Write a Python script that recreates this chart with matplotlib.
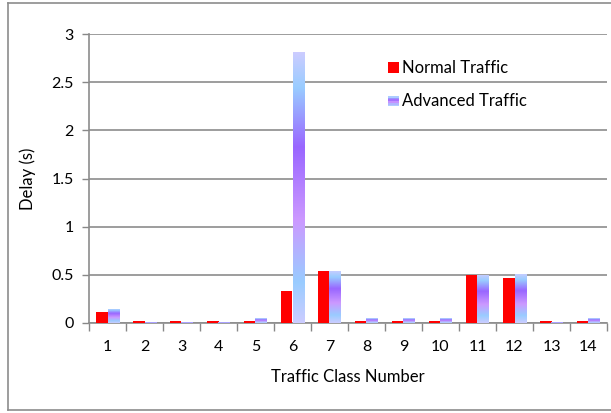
import numpy as np
import matplotlib
matplotlib.use("Agg")
import matplotlib.pyplot as plt
from matplotlib.colors import LinearSegmentedColormap
from matplotlib.patches import Rectangle
from matplotlib.lines import Line2D
from matplotlib.legend_handler import HandlerBase

plt.rcParams['font.family'] = ['Lato', 'DejaVu Sans']

categories = [str(i) for i in range(1, 15)]
normal = [0.11, 0.02, 0.02, 0.02, 0.02, 0.33, 0.54, 0.02, 0.02, 0.02, 0.50, 0.47, 0.02, 0.02]
advanced = [0.15, 0.01, 0.01, 0.01, 0.05, 2.81, 0.54, 0.05, 0.05, 0.05, 0.50, 0.51, 0.01, 0.05]
yticks = [0, 0.5, 1, 1.5, 2, 2.5, 3]
ytick_labels = ['0', '0.5', '1', '1.5', '2', '2.5', '3']

# gradient from bottom (0) to top (1)
grad_stops = [(0.0, '#ccccff'), (0.15, '#99ccff'), (0.38, '#cc99ff'),
              (0.65, '#9966ff'), (0.87, '#99ccff'), (1.0, '#ccccff')]
cmap = LinearSegmentedColormap.from_list('adv', grad_stops)

fig = plt.figure(figsize=(6.11, 4.13), dpi=100)
ax = fig.add_axes([89/611, 1-323/413, (607-89)/611, (323-34)/413])

x = np.arange(len(categories))
w = 0.31
ax.bar(x - w/2, normal, width=w, color='#ff0000', zorder=3)
bars = ax.bar(x + w/2, advanced, width=w, color='none', zorder=3)
grad = np.linspace(0, 1, 256).reshape(-1, 1)
for b in bars:
    x0, y0 = b.get_x(), b.get_y()
    bw, bh = b.get_width(), b.get_height()
    im = ax.imshow(grad, cmap=cmap, origin='lower', aspect='auto',
                   extent=[x0, x0 + bw, y0, y0 + bh], zorder=3, interpolation='bilinear')
    im.set_clip_path(b)

ax.set_xlim(-0.5, len(categories) - 0.5)
ax.set_ylim(0, 3)
ax.set_yticks(yticks)
ax.set_yticklabels(ytick_labels)
ax.set_xticks(x)
ax.set_xticklabels(categories)
ax.set_xticks(np.arange(-0.5, len(categories), 1), minor=True)
ax.tick_params(axis='x', which='major', length=0, pad=12, labelsize=11.5, colors='#000000')
ax.tick_params(axis='x', which='minor', length=6, width=1, color='#888888', direction='out')
ax.tick_params(axis='y', length=5, width=1, color='#888888', labelsize=11.5, pad=6)
ax.yaxis.grid(True, color='#8c8c8c', linewidth=1.2, zorder=0)
ax.set_axisbelow(True)
for s in ['top', 'right']:
    ax.spines[s].set_visible(False)
for s in ['left', 'bottom']:
    ax.spines[s].set_color('#8c8c8c')
    ax.spines[s].set_linewidth(1.2)

ax.set_xlabel('Traffic Class Number', fontsize=12, labelpad=11)
ax.set_ylabel('Delay (s)', fontsize=12, labelpad=11)


class GradHandler(HandlerBase):
    def create_artists(self, legend, orig_handle, xdescent, ydescent, width, height, fontsize, trans):
        arts = []
        n = 6
        sq = height * 0.9
        x0 = xdescent + width - sq
        for i in range(n):
            c = cmap((i + 0.5) / n)
            r = Rectangle((x0, -ydescent + i * sq / n), sq, sq / n, facecolor=c,
                          edgecolor='none', transform=trans)
            arts.append(r)
        return arts


class RedHandler(HandlerBase):
    def create_artists(self, legend, orig_handle, xdescent, ydescent, width, height, fontsize, trans):
        sq = height * 0.95
        x0 = xdescent + width - sq
        return [Rectangle((x0, -ydescent), sq, sq, facecolor='#ff0000', edgecolor='none', transform=trans)]


h1 = Rectangle((0, 0), 1, 1, color='#ff0000')
h2 = Rectangle((0, 0), 1, 1, color='#9999ff')
leg = ax.legend([h1, h2], ['Normal Traffic', 'Advanced Traffic'],
                handler_map={h1: RedHandler(), h2: GradHandler()},
                loc='upper left', bbox_to_anchor=((372-89)/518, (323-45)/289),
                frameon=False, fontsize=12, handlelength=0.7, handletextpad=0.2,
                labelspacing=1.05)

# outer frame
fc = '#8c8c8c'
fig.add_artist(Line2D([8/611, 8/611], [1-410/413, 1-3/413], color=fc, lw=1.2, transform=fig.transFigure))
fig.add_artist(Line2D([8/611, 1], [1-3/413, 1-3/413], color=fc, lw=1.2, transform=fig.transFigure))
fig.add_artist(Line2D([8/611, 1], [1-410/413, 1-410/413], color=fc, lw=1.2, transform=fig.transFigure))

fig.savefig('out.png', dpi=100)
